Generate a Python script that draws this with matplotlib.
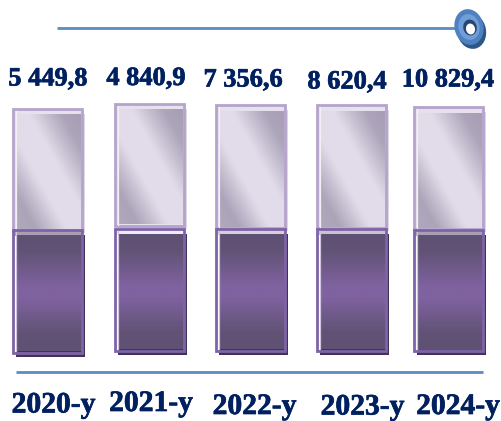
import numpy as np
import matplotlib
matplotlib.use("Agg")
import matplotlib.pyplot as plt
import matplotlib.patheffects as pe
from matplotlib.colors import LinearSegmentedColormap
from matplotlib.patches import Ellipse, Rectangle

years = ["2020-y", "2021-y", "2022-y", "2023-y", "2024-y"]
values = ["5 449,8", "4 840,9", "7 356,6", "8 620,4", "10 829,4"]

# layout (pixels)
bar_left = [13, 115, 216, 317, 414.5]
bar_right = [82, 184, 285, 386, 483]
bar_top = [108.5, 103.5, 105, 105, 107]
light_bottom = [230, 225.5, 228, 228, 229]
dark_top = [230, 228.5, 228.5, 228.5, 229.5]
bar_bottom = [352.5, 350.5, 350.5, 350.5, 351]
strip_colors = ["#a99fb4", "#efecf2", "#d5d0da", "#c9c3d0", "#a99fb4"]
val_x = [48, 146, 243, 347, 448]
val_base = [85.5, 85, 86.5, 88.5, 86.5]
year_x = [53.5, 151, 254.5, 362.5, 458]
year_base = [412.5, 411, 414, 414.5, 414]

NAVY = "#002060"
LINE = "#5b8bc5"
W, H = 502, 421

fig = plt.figure(figsize=(W / 100, H / 100), dpi=100, facecolor="white")
ax = fig.add_axes([0, 0, 1, 1])
ax.set_xlim(0, W)
ax.set_ylim(H, 0)
ax.axis("off")

light_cmap = LinearSegmentedColormap.from_list(
    "light", [(0, "#a79eb5"), (0.15, "#ada5ba"), (0.40, "#e2dcea"), (0.61, "#e2dcea"),
              (0.85, "#aca4b9"), (1, "#b0a8bd")])
dark_cmap = LinearSegmentedColormap.from_list(
    "dark", [(0, "#5f5173"), (0.14, "#625376"), (0.45, "#7f62a0"), (0.55, "#7f62a0"),
             (0.85, "#625376"), (1, "#5f5173")])

u, v = np.meshgrid(np.linspace(0, 1, 80), np.linspace(0, 1, 140))
diag = ((1 - u) + v) / 2
vert = v
stroke = [pe.withStroke(linewidth=0.5, foreground=NAVY)]

for i in range(len(years)):
    l, r = bar_left[i], bar_right[i]
    t, m, d, b = bar_top[i], light_bottom[i], dark_top[i], bar_bottom[i]

    # drop shadows
    ax.add_patch(Rectangle((l + 3, t + 5), r - l, m - t - 2, fc="#dcdae0", ec="none", zorder=1))
    ax.add_patch(Rectangle((l + 3, d + 5), r - l, b - d - 1, fc="#3f3356", ec="none", zorder=1))

    # light upper block
    ax.add_patch(Rectangle((l, t), r - l, m - t, fc="#e6e1ec", ec="none", zorder=2))
    ax.imshow(diag, cmap=light_cmap, vmin=0, vmax=1, extent=(l + 3, r - 1, m - 1, t + 6),
              aspect="auto", zorder=3, interpolation="bilinear")
    ax.add_patch(Rectangle((l, t), r - l, m - t, fc="none", ec="#b4a3cc", lw=2.0, zorder=4))
    ax.plot([l + 2.6, l + 2.6], [t + 2, m - 1], color="#f2eff5", lw=0.9, zorder=4)

    # dark lower block
    ax.add_patch(Rectangle((l, d), r - l, 6, fc=strip_colors[i], ec="none", zorder=5))
    ax.imshow(vert, cmap=dark_cmap, vmin=0, vmax=1, extent=(l + 3, r, b - 1, d + 6),
              aspect="auto", zorder=6, interpolation="bilinear")
    ax.add_patch(Rectangle((l, d), r - l, b - d, fc="none", ec="#7f63a8", lw=2.0, zorder=7))
    ax.plot([l + 2.6, l + 2.6], [d + 2, b - 2], color="#cfc4dc", lw=0.9, zorder=7)

    ax.text(val_x[i], val_base[i], values[i], family="Liberation Serif", weight="bold",
            fontsize=19, color=NAVY, ha="center", va="baseline", zorder=10, path_effects=stroke)
    ax.text(year_x[i], year_base[i], years[i], family="Liberation Serif", weight="bold",
            fontsize=21.3, color=NAVY, ha="center", va="baseline", zorder=10, path_effects=stroke)

ax.set_xlim(0, W)
ax.set_ylim(H, 0)

# rules
ax.plot([57, 458], [28, 28], color=LINE, lw=2.0, solid_capstyle="butt", zorder=2)
ax.plot([16, 483], [372, 372], color=LINE, lw=2.0, solid_capstyle="butt", zorder=2)

# ring ornament
ring = (469, 27)
ax.add_patch(Ellipse((ring[0] + 2.5, ring[1] + 4), 29, 36, angle=-12, fc="#2c5688", ec="none", zorder=3))
ax.add_patch(Ellipse(ring, 29, 36, angle=-12, fc="#4f81c0", ec="none", zorder=4))
ax.add_patch(Ellipse(ring, 21, 26, angle=-12, fc="#6f9fd8", ec="none", zorder=5))
ax.add_patch(Ellipse((470, 27.5), 13.5, 16, angle=-12, fc="#27456f", ec="none", zorder=6))
ax.add_patch(Ellipse((470.5, 29), 9, 11, angle=-12, fc="white", ec="none", zorder=7))

fig.savefig("out.png", dpi=100, facecolor="white")
